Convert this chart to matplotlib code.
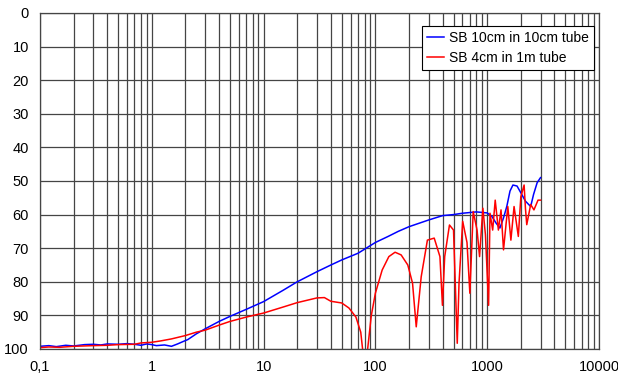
import matplotlib.pyplot as plt
from matplotlib.ticker import LogLocator, FixedLocator, NullFormatter

plt.rcParams['font.family'] = ['Liberation Sans', 'DejaVu Sans']

blue_freq = [0.1, 0.12, 0.14, 0.17, 0.2, 0.25, 0.3, 0.35, 0.4, 0.5, 0.6, 0.7, 0.8, 0.9,
             1.0, 1.1, 1.3, 1.5, 1.7, 1.9, 2.1, 2.5, 3, 4, 5, 7, 10, 15, 20, 30, 40, 50,
             70, 100, 130, 160, 200, 250, 300, 400, 500, 600, 800, 1000, 1100, 1200,
             1300, 1400, 1500, 1600, 1700, 1850, 2000, 2200, 2450, 2600, 2800, 3000]
blue_level = [99.2, 99.0, 99.3, 98.9, 99.1, 98.7, 98.6, 98.8, 98.5, 98.6, 98.4, 98.6, 98.9, 98.5,
              98.7, 99.0, 98.8, 99.2, 98.5, 97.8, 97.2, 95.5, 94.0, 91.8, 90.3, 88.2, 85.9,
              82.5, 80.0, 77.0, 75.0, 73.5, 71.5, 68.3, 66.5, 65.0, 63.6, 62.5, 61.6, 60.3,
              60.0, 59.6, 59.2, 59.5, 60.5, 62.5, 64.0, 61.0, 57.5, 53.0, 51.2, 51.5, 53.5,
              56.0, 57.6, 54.0, 50.5, 49.0]

red_freq = [0.1, 0.12, 0.15, 0.2, 0.3, 0.4, 0.5, 0.7, 0.8, 1.0, 1.2, 1.5, 2.0, 2.5, 3, 4,
            5, 7, 10, 15, 20, 30, 35, 40, 50, 58, 67, 74, 78, 84, 92, 100, 115, 132, 150,
            170, 195, 215, 232, 257, 292, 336, 378, 398, 417, 460, 500, 540, 560, 604,
            660, 700, 750, 812, 855, 915, 965, 1030, 1060, 1120, 1180, 1260, 1330, 1400,
            1530, 1630, 1740, 1900, 2000, 2140, 2200, 2260, 2450, 2620, 2850, 3000]
red_level = [99.6, 99.4, 99.5, 99.2, 99.0, 98.9, 98.7, 98.6, 98.2, 98.0, 97.6, 97.0, 96.0,
             95.0, 94.4, 92.9, 91.8, 90.5, 89.3, 87.5, 86.2, 84.8, 84.7, 85.8, 86.3, 87.8,
             90.5, 95.0, 102.0, 102.0, 90.0, 83.4, 76.5, 72.5, 71.2, 72.0, 75.0, 80.4, 93.4,
             78.5, 67.6, 67.0, 72.5, 87.0, 72.5, 63.1, 64.6, 98.3, 80.4, 62.0, 68.3, 83.4,
             59.1, 64.6, 72.5, 58.1, 66.0, 87.0, 59.6, 64.6, 55.7, 64.6, 58.6, 70.5, 57.6,
             67.6, 57.6, 66.5, 54.7, 51.2, 58.2, 63.0, 57.0, 58.6, 55.7, 55.7]

x_ticks = [0.1, 1, 10, 100, 1000, 10000]
x_labels = ["0,1", "1", "10", "100", "1000", "10000"]
y_ticks = [0, 10, 20, 30, 40, 50, 60, 70, 80, 90, 100]

fig = plt.figure(figsize=(6.18, 3.8), dpi=100)
ax = fig.add_axes([0.0647, 0.0816, 0.9045, 0.8842])

ax.plot(blue_freq, blue_level, color='#0000ff', lw=1.1, label='SB 10cm in 10cm tube')
ax.plot(red_freq, red_level, color='#ff0000', lw=1.1, label='SB 4cm in 1m tube')

ax.set_xscale('log')
ax.set_xlim(0.1, 10000)
ax.set_ylim(100, 0)
ax.xaxis.set_major_locator(FixedLocator(x_ticks))
ax.set_xticklabels(x_labels)
ax.xaxis.set_minor_locator(LogLocator(base=10, subs=range(2, 10), numticks=20))
ax.xaxis.set_minor_formatter(NullFormatter())
ax.set_yticks(y_ticks)

ax.grid(True, which='both', axis='x', color='#454545', lw=0.9)
ax.grid(True, which='major', axis='y', color='#454545', lw=0.9)
ax.set_axisbelow(True)
ax.tick_params(which='both', length=0, labelsize=10.5, pad=8)
for s in ax.spines.values():
    s.set_color('#454545')
    s.set_linewidth(0.9)

leg = ax.legend(loc='upper right', bbox_to_anchor=(0.991, 0.961), borderaxespad=0,
                fontsize=10, frameon=True, fancybox=False, framealpha=1,
                edgecolor='black', handlelength=1.2, handletextpad=0.4,
                borderpad=0.35, labelspacing=0.45)
leg.get_frame().set_linewidth(0.8)

fig.savefig('out.png', dpi=100)
